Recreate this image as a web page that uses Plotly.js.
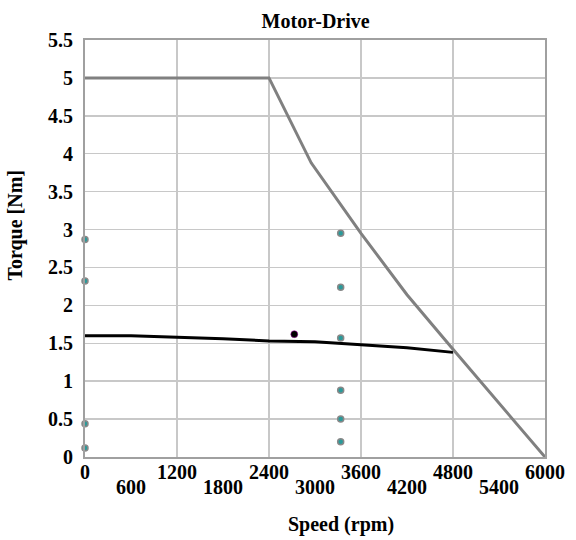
<!DOCTYPE html>
<html><head><meta charset="utf-8">
<script src="https://cdn.plot.ly/plotly-3.0.1.min.js"></script>
<style>body{margin:0;background:#fff}</style></head>
<body><div id="chart" style="width:576px;height:540px"></div>
<script>
// Envelope (max torque) curve
const envSpeed = [0, 2400, 2950, 3600, 4200, 4800, 6000];
const envTorque = [5, 5, 3.88, 2.95, 2.14, 1.42, 0];
// Load line
const loadSpeed = [0, 600, 1200, 1800, 2400, 3000, 3600, 4200, 4800];
const loadTorque = [1.60, 1.60, 1.58, 1.56, 1.53, 1.52, 1.48, 1.44, 1.38];
// Operating point
const opSpeed = [2730];
const opTorque = [1.62];
// Measured points
const ptSpeed = [0, 0, 0, 0, 3335, 3335, 3335, 3335, 3335, 3335];
const ptTorque = [2.87, 2.32, 0.44, 0.12, 2.95, 2.24, 1.57, 0.88, 0.50, 0.20];
// Tick labels
const xTickTop = [0, 1200, 2400, 3600, 4800, 6000];
const xTickBottom = [600, 1800, 3000, 4200, 5400];
const yTickVals = [0, 0.5, 1, 1.5, 2, 2.5, 3, 3.5, 4, 4.5, 5, 5.5];

const serif = 'Liberation Serif';
const tf = {family: serif, size: 20, color: '#000'};
const bold = v => '<b>' + v + '</b>';
const traces = [
  {x: loadSpeed, y: loadTorque, mode: 'lines', line: {color: '#000', width: 3}, hoverinfo: 'none'},
  {x: envSpeed, y: envTorque, mode: 'lines', line: {color: '#808080', width: 3}, hoverinfo: 'none'},
  {x: ptSpeed, y: ptTorque, mode: 'markers', marker: {color: '#2a9a9a', size: 6, line: {color: '#888', width: 1.5}}, cliponaxis: false},
  {x: opSpeed, y: opTorque, mode: 'markers', marker: {color: '#000', size: 7, line: {color: '#b000b0', width: 0.5}}},
  {x: [0], y: [0], xaxis: 'x2', mode: 'markers', marker: {opacity: 0}, hoverinfo: 'none'}
];
const layout = {
  width: 576, height: 540,
  margin: {l: 85, r: 31, t: 40, b: 83},
  showlegend: false,
  paper_bgcolor: '#fff', plot_bgcolor: '#fff',
  font: {family: serif, color: '#000'},
  title: {text: '<b>Motor-Drive</b>', font: {family: serif, size: 20, color: '#000'}, x: 0.548, xanchor: 'center', y: 0.962, yanchor: 'middle'},
  xaxis: {range: [0, 6000], tickvals: xTickTop, ticktext: xTickTop.map(bold), tickangle: 0,
    tickfont: tf, dtick: 600, tick0: 0,
    showgrid: true, gridcolor: '#c8c8c8', gridwidth: 1.5,
    showline: true, linecolor: '#a0a0a0', linewidth: 2, mirror: true, zeroline: false, ticks: '', ticklabelstandoff: -4},
  xaxis2: {range: [0, 6000], overlaying: 'x', side: 'bottom', tickvals: xTickBottom, ticktext: xTickBottom.map(bold), tickangle: 0,
    tickfont: tf, showgrid: false, showline: false, zeroline: false, ticks: '', ticklabelstandoff: 16},
  yaxis: {range: [0, 5.5], tickvals: yTickVals, ticktext: yTickVals.map(bold), tickangle: 0,
    tickfont: tf,
    showgrid: true, gridcolor: '#c8c8c8', gridwidth: 1.5,
    showline: true, linecolor: '#a0a0a0', linewidth: 2, mirror: true, zeroline: false, ticks: '', ticklabelstandoff: 6},
  annotations: [
    {text: '<b>Speed (rpm)</b>', xref: 'paper', yref: 'paper', x: 0.557, y: -0.163, xanchor: 'center', yanchor: 'middle', showarrow: false, font: {family: serif, size: 20, color: '#000'}},
    {text: '<b>Torque [Nm]</b>', xref: 'paper', yref: 'paper', x: -0.15, y: 0.555, xanchor: 'center', yanchor: 'middle', textangle: -90, showarrow: false, font: {family: serif, size: 20, color: '#000'}}
  ]
};
Plotly.newPlot('chart', traces, layout, {displayModeBar: false, staticPlot: true});
</script></body></html>
